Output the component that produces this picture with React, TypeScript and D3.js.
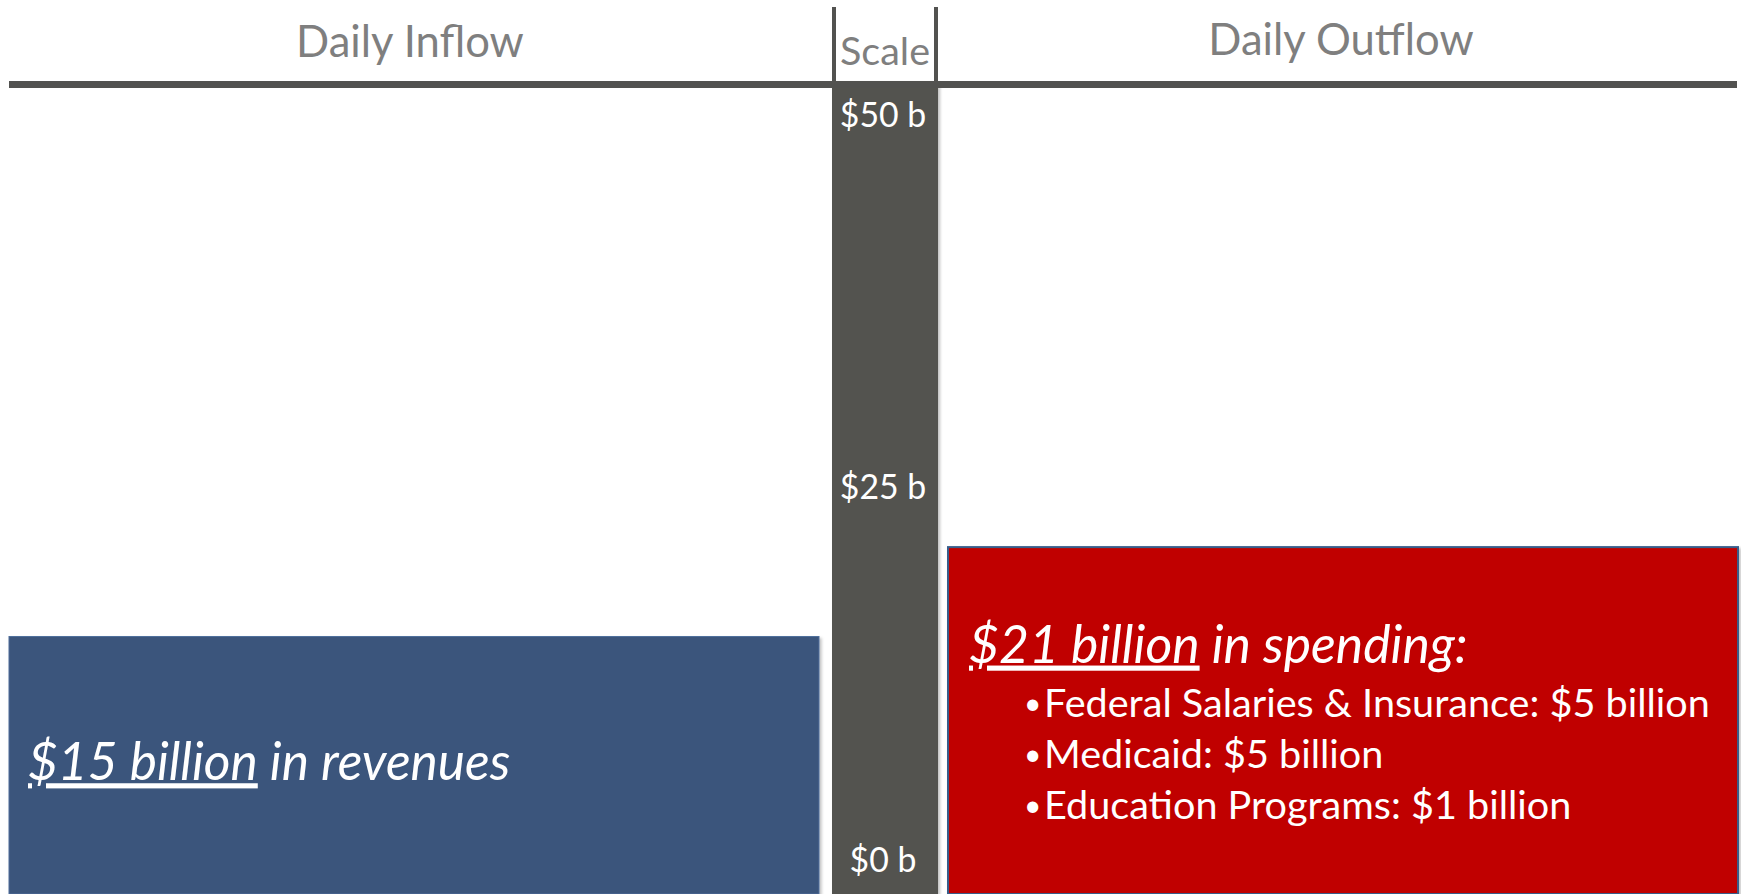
import React from "react";
import * as d3 from "d3";

// ---- data ----
const flowTitles = ["Daily Inflow", "Daily Outflow"];
const flowValues = [15, 21]; // $ billions
const flowLeads = ["$15 billion", "$21 billion"];
const flowTails = [" in revenues", " in spending:"];
const scaleTicks = [0, 25, 50];
const scaleTitle = "Scale";
const outflowItems = ["Federal Salaries & Insurance", "Medicaid", "Education Programs"];
const outflowItemValues = [5, 5, 1];

const W = 1741;
const H = 894;
const FONT = "Lato, 'Open Sans', sans-serif";

export default function App() {
  const y = d3.scaleLinear().domain([0, 50]).range([860, 115]);
  const lineY = 81;
  const lineH = 7;
  const scaleX0 = 832;
  const scaleX1 = 938;
  const inX0 = 9, inX1 = 819;
  const outX0 = 948, outX1 = 1738;
  const fmtTick = (v: number) => `$${v} b`;

  const inTop = y(flowValues[0]);
  const outTop = y(flowValues[1]);
  const inMid = (inTop + H) / 2;
  const outMid = (outTop + H) / 2;

  return (
    <svg
      width={W}
      height={H}
      style={{ position: "absolute", left: 0, top: 0, background: "#fff" }}
      fontFamily={FONT}
    >
      <defs>
        <filter id="sh" x="-5%" y="-5%" width="110%" height="110%">
          <feDropShadow dx="2" dy="2" stdDeviation="1.5" floodColor="#000" floodOpacity="0.25" />
        </filter>
      </defs>

      {/* Scale column */}
      <rect x={scaleX0} y={lineY} width={scaleX1 - scaleX0} height={H - lineY} fill="#525250" filter="url(#sh)" />
      <rect x={scaleX0} y={7} width={4} height={lineY - 7} fill="#525250" />
      <rect x={scaleX1 - 4} y={7} width={4} height={lineY - 7} fill="#525250" />
      <rect x={9} y={lineY} width={1737 - 9} height={lineH} fill="#525250" />

      {/* headers */}
      <text x={410} y={57} textAnchor="middle" fontSize={43.6} fill="#7f7f7f">{flowTitles[0]}</text>
      <text x={1341} y={55} textAnchor="middle" fontSize={43.6} fill="#7f7f7f">{flowTitles[1]}</text>
      <text x={(scaleX0 + scaleX1) / 2} y={65} textAnchor="middle" fontSize={39.5} fill="#7f7f7f">{scaleTitle}</text>

      {/* ticks */}
      {scaleTicks.map((t) => (
        <text key={t} x={(scaleX0 + scaleX1) / 2 - 2} y={y(t)} dy="0.35em" textAnchor="middle" fontSize={33.8} fill="#fff">
          {fmtTick(t)}
        </text>
      ))}

      {/* inflow bar */}
      <rect x={inX0} y={inTop} width={inX1 - inX0} height={H - inTop} fill="#3b557b" stroke="#4f6f9c" strokeWidth={1} filter="url(#sh)" />
      <text x={28} y={inMid + 15} fontSize={51.5} fill="#fff" fontStyle="italic">
        <tspan textDecoration="underline">{flowLeads[0]}</tspan>
        <tspan>{flowTails[0]}</tspan>
      </text>

      {/* outflow bar */}
      <rect x={outX0} y={outTop} width={outX1 - outX0} height={H - outTop} fill="#c00000" stroke="#385d8a" strokeWidth={2} filter="url(#sh)" />
      <text x={969} y={outMid - 58} fontSize={51.7} fill="#fff" fontStyle="italic">
        <tspan textDecoration="underline">{flowLeads[1]}</tspan>
        <tspan>{flowTails[1]}</tspan>
      </text>
      {outflowItems.map((item, i) => (
        <g key={item}>
          <text x={1024} y={outMid - 4 + i * 51} fontSize={30} fill="#fff" dy="-0.08em">•</text>
          <text x={1044} y={outMid - 4 + i * 51} fontSize={39.6} fill="#fff">
            {`${item}: $${outflowItemValues[i]} billion`}
          </text>
        </g>
      ))}
    </svg>
  );
}
